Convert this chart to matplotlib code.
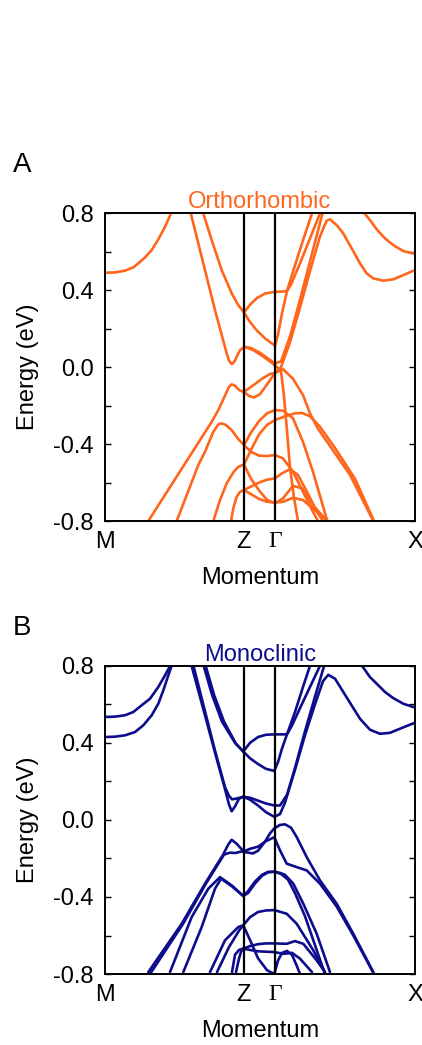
import numpy as np
import matplotlib
matplotlib.use('Agg')
from matplotlib import pyplot as plt

plt.rcParams['font.family'] = ['Liberation Sans', 'DejaVu Sans']

# high symmetry points along the path (path length units)
kpoints = [0.0, 1.39, 1.70, 3.10]
klabels = ['M', 'Z', '\u0393', 'X']

# ---- orthorhombic bands: (k, E) pairs ----
ortho_bands = [
    # M - Z
    ([0, 0.1, 0.2, 0.283, 0.333, 0.4, 0.467, 0.533, 0.6, 0.667, 0.7],
     [0.491, 0.493, 0.502, 0.519, 0.54, 0.571, 0.609, 0.665, 0.73, 0.808, 0.85]),
    ([0.84, 0.85, 1.1, 1.217, 1.24, 1.267, 1.293, 1.317, 1.35, 1.39],
     [0.84, 0.817, 0.297, 0.072, 0.034, 0.016, 0.028, 0.054, 0.089, 0.103]),
    ([0.967, 0.983, 1.067, 1.167, 1.267, 1.333, 1.39],
     [0.826, 0.80, 0.661, 0.505, 0.384, 0.323, 0.285]),
    ([0.433, 1.067, 1.133, 1.2, 1.24, 1.267, 1.3, 1.343, 1.39],
     [-0.80, -0.284, -0.223, -0.148, -0.102, -0.089, -0.096, -0.119, -0.13]),
    ([0.717, 0.933, 1.0, 1.083, 1.133, 1.167, 1.207, 1.267, 1.333, 1.39],
     [-0.80, -0.509, -0.44, -0.336, -0.297, -0.292, -0.30, -0.327, -0.374, -0.405]),
    ([1.083, 1.15, 1.217, 1.283, 1.333, 1.39],
     [-0.80, -0.691, -0.604, -0.547, -0.518, -0.506]),
    ([1.26, 1.283, 1.317, 1.35, 1.39],
     [-0.80, -0.734, -0.674, -0.648, -0.639]),
    # Z - Gamma - X
    ([1.39, 1.45, 1.52, 1.60, 1.70, 1.76, 1.82, 1.86, 1.95, 2.05, 2.15, 2.2],
     [0.285, 0.325, 0.36, 0.383, 0.392, 0.393, 0.396, 0.43, 0.54, 0.67, 0.80, 0.87]),
    ([1.39, 1.45, 1.52, 1.60, 1.70, 1.73, 1.77, 1.82, 1.90, 1.98, 2.07, 2.10],
     [0.285, 0.235, 0.19, 0.15, 0.112, 0.17, 0.28, 0.396, 0.53, 0.66, 0.80, 0.85]),
    ([1.39, 1.46, 1.55, 1.63, 1.70, 1.76, 1.85, 1.95, 2.05, 2.15, 2.19],
     [0.106, 0.10, 0.075, 0.045, 0.02, 0.03, 0.16, 0.35, 0.55, 0.75, 0.83]),
    ([1.39, 1.48, 1.57, 1.65, 1.72, 1.76, 1.79, 1.82, 1.85, 1.89, 1.93],
     [0.106, 0.09, 0.06, 0.03, 0.0, -0.02, -0.15, -0.33, -0.52, -0.68, -0.80]),
    ([1.39, 1.48, 1.57, 1.65, 1.70, 1.76, 1.85, 1.95, 2.05, 2.15, 2.183, 2.217, 2.25, 2.317, 2.383,
      2.467, 2.55, 2.617, 2.683, 2.783, 2.883, 2.983, 3.117],
     [-0.128, -0.095, -0.06, -0.035, -0.03, 0.0, 0.13, 0.31, 0.5, 0.68, 0.722, 0.762, 0.769, 0.739, 0.696,
      0.618, 0.54, 0.488, 0.462, 0.45, 0.457, 0.479, 0.509]),
    ([1.39, 1.44, 1.49, 1.55, 1.62, 1.70, 1.78, 1.88, 1.98, 2.05, 2.13, 2.25, 2.45, 2.683],
     [-0.128, -0.15, -0.157, -0.14, -0.09, -0.03, -0.01, -0.06, -0.145, -0.24, -0.32, -0.41, -0.56, -0.80]),
    ([2.55, 2.583, 2.65, 2.717, 2.8, 2.883, 2.983, 3.117],
     [0.85, 0.808, 0.765, 0.717, 0.67, 0.635, 0.604, 0.587]),
    # lower manifold
    ([1.39, 1.46, 1.54, 1.62, 1.70, 1.80, 1.90, 1.97, 2.05, 2.15, 2.3, 2.5, 2.69],
     [-0.506, -0.43, -0.35, -0.30, -0.275, -0.255, -0.24, -0.238, -0.255, -0.31, -0.42, -0.58, -0.80]),
    ([1.39, 1.46, 1.54, 1.62, 1.70, 1.78, 1.88, 1.98, 2.08, 2.22],
     [-0.405, -0.34, -0.28, -0.24, -0.223, -0.226, -0.266, -0.388, -0.544, -0.795]),
    ([1.39, 1.46, 1.54, 1.62, 1.70, 1.78, 1.88, 1.98, 2.08, 2.13],
     [-0.405, -0.44, -0.46, -0.462, -0.457, -0.474, -0.544, -0.648, -0.752, -0.80]),
    ([1.39, 1.46, 1.54, 1.62, 1.70, 1.77, 1.85, 1.93, 2.02, 2.12, 2.18],
     [-0.639, -0.62, -0.60, -0.585, -0.578, -0.552, -0.53, -0.561, -0.648, -0.752, -0.80]),
    ([1.39, 1.46, 1.54, 1.62, 1.70, 1.78, 1.88, 1.97, 2.08, 2.22],
     [-0.506, -0.58, -0.64, -0.69, -0.708, -0.682, -0.617, -0.63, -0.717, -0.80]),
    ([1.39, 1.46, 1.54, 1.62, 1.70, 1.78, 1.88, 1.98, 2.12, 2.23],
     [-0.639, -0.66, -0.685, -0.70, -0.703, -0.70, -0.679, -0.691, -0.752, -0.80]),
]

# ---- monoclinic bands ----
mono_bands = [
    # M - Z
    ([0, 0.1, 0.2, 0.283, 0.367, 0.45, 0.533, 0.6, 0.65, 0.683],
     [0.534, 0.536, 0.543, 0.56, 0.595, 0.629, 0.69, 0.75, 0.798, 0.836]),
    ([0, 0.1, 0.2, 0.3, 0.383, 0.467, 0.533, 0.583, 0.633, 0.667, 0.69],
     [0.43, 0.432, 0.439, 0.456, 0.491, 0.543, 0.603, 0.672, 0.75, 0.80, 0.84]),
    ([0.84, 1.1, 1.2, 1.24, 1.267, 1.30, 1.34, 1.383], [0.85, 0.35, 0.16, 0.08, 0.045, 0.07, 0.11, 0.12]),
    ([0.86, 1.1, 1.2, 1.24, 1.27, 1.31, 1.383], [0.85, 0.36, 0.17, 0.125, 0.107, 0.11, 0.12]),
    ([0.97, 1.07, 1.17, 1.3, 1.383], [0.83, 0.65, 0.51, 0.40, 0.355]),
    ([0.99, 1.09, 1.19, 1.31, 1.383], [0.83, 0.65, 0.51, 0.395, 0.355]),
    ([0.433, 0.767, 1.0, 1.183, 1.23, 1.267, 1.317, 1.383], [-0.79, -0.539, -0.331, -0.179, -0.13, -0.103, -0.124, -0.162]),
    ([0.45, 0.78, 1.01, 1.19, 1.25, 1.30, 1.383], [-0.80, -0.54, -0.33, -0.18, -0.17, -0.172, -0.162]),
    ([0.65, 0.867, 1.033, 1.15, 1.267, 1.383], [-0.79, -0.504, -0.357, -0.297, -0.34, -0.395]),
    ([0.783, 0.967, 1.1, 1.16, 1.27, 1.383], [-0.79, -0.556, -0.357, -0.305, -0.345, -0.395]),
    ([1.05, 1.2, 1.333, 1.383], [-0.79, -0.625, -0.556, -0.547]),
    ([1.12, 1.24, 1.34, 1.383], [-0.79, -0.66, -0.575, -0.547]),
    ([1.27, 1.3, 1.34, 1.383], [-0.79, -0.70, -0.675, -0.668]),
    ([1.31, 1.34, 1.36, 1.383], [-0.79, -0.72, -0.685, -0.668]),
    # Z - Gamma - X
    ([1.383, 1.45, 1.53, 1.61, 1.693, 1.76, 1.82, 1.87, 1.95, 2.05, 2.15, 2.2],
     [0.355, 0.40, 0.43, 0.442, 0.444, 0.444, 0.444, 0.49, 0.58, 0.69, 0.80, 0.86]),
    ([1.383, 1.45, 1.53, 1.61, 1.693, 1.73, 1.77, 1.82, 1.90, 1.98, 2.05, 2.08],
     [0.355, 0.32, 0.29, 0.265, 0.254, 0.30, 0.37, 0.444, 0.56, 0.69, 0.80, 0.85]),
    ([1.383, 1.45, 1.53, 1.61, 1.693, 1.75, 1.82, 1.9, 2.0, 2.1, 2.18, 2.22],
     [0.12, 0.115, 0.10, 0.085, 0.075, 0.075, 0.13, 0.27, 0.46, 0.64, 0.78, 0.85]),
    ([1.383, 1.45, 1.53, 1.61, 1.693, 1.75, 1.80, 1.9, 2.0, 2.1, 2.18, 2.233, 2.3, 2.383, 2.467, 2.55,
      2.65, 2.75, 2.85, 2.967, 3.117],
     [0.12, 0.105, 0.075, 0.04, 0.016, 0.03, 0.09, 0.26, 0.44, 0.6, 0.72, 0.753, 0.733, 0.664, 0.594, 0.525,
      0.468, 0.447, 0.452, 0.477, 0.508]),
    ([2.55, 2.567, 2.65, 2.717, 2.8, 2.883, 2.983, 3.117],
     [0.83, 0.802, 0.741, 0.707, 0.664, 0.632, 0.603, 0.58]),
    ([1.383, 1.43, 1.48, 1.53, 1.60, 1.65, 1.693, 1.75, 1.80, 1.86, 1.917, 2.017, 2.15, 2.317, 2.483, 2.683],
     [-0.165, -0.17, -0.174, -0.16, -0.113, -0.07, -0.044, -0.026, -0.023, -0.04, -0.089, -0.193, -0.314, -0.435, -0.591, -0.79]),
    ([1.383, 1.45, 1.53, 1.61, 1.693, 1.75, 1.817, 1.917, 2.017, 2.15, 2.317, 2.483, 2.69],
     [-0.165, -0.15, -0.139, -0.11, -0.09, -0.158, -0.227, -0.245, -0.262, -0.331, -0.45, -0.60, -0.80]),
    ([1.383, 1.43, 1.50, 1.57, 1.63, 1.693, 1.75, 1.80, 1.883, 1.983, 2.117, 2.25],
     [-0.395, -0.37, -0.32, -0.285, -0.27, -0.269, -0.275, -0.285, -0.331, -0.435, -0.591, -0.79]),
    ([1.383, 1.43, 1.50, 1.57, 1.63, 1.693, 1.76, 1.83, 1.9, 2.0, 2.1, 2.2],
     [-0.395, -0.38, -0.33, -0.29, -0.272, -0.269, -0.28, -0.31, -0.38, -0.50, -0.65, -0.80]),
    ([1.383, 1.45, 1.53, 1.61, 1.693, 1.817, 1.917, 2.083, 2.2],
     [-0.547, -0.505, -0.478, -0.47, -0.468, -0.487, -0.539, -0.677, -0.79]),
    ([1.383, 1.45, 1.53, 1.62, 1.693, 1.73, 1.77, 1.82, 1.87, 1.92, 1.95],
     [-0.547, -0.623, -0.718, -0.78, -0.80, -0.73, -0.69, -0.68, -0.70, -0.76, -0.80]),
    ([1.383, 1.45, 1.53, 1.61, 1.693, 1.817, 1.9, 1.983, 2.117, 2.2],
     [-0.668, -0.655, -0.645, -0.641, -0.641, -0.643, -0.629, -0.643, -0.729, -0.79]),
    ([1.383, 1.45, 1.53, 1.61, 1.693, 1.783, 1.87, 1.95, 2.07],
     [-0.668, -0.675, -0.682, -0.684, -0.686, -0.695, -0.69, -0.72, -0.79]),
]

ortho_color = '#ff661c'
mono_color = '#0c0c8c'

fig = plt.figure(figsize=(4.22, 10.45), dpi=100)


def draw_panel(rect, bands, color, title, letter, letter_y):
    ax = fig.add_axes(rect)
    for k, e in bands:
        ax.plot(k, e, color=color, lw=1.9, solid_joinstyle='round', solid_capstyle='round')
    for kp in kpoints[1:3]:
        ax.axvline(kp, color='k', lw=1.6)
    ax.set_xlim(kpoints[0], kpoints[-1])
    ax.set_ylim(-0.8, 0.8)
    ax.set_xticks(kpoints)
    ax.set_xticklabels(klabels)
    # Gamma in a serif face
    ax.get_xticklabels()[2].set_fontfamily(['Liberation Serif', 'DejaVu Serif'])
    ax.set_yticks([-0.8, -0.4, 0.0, 0.4, 0.8])
    ax.set_yticks([-0.6, -0.2, 0.2, 0.6], minor=True)
    ax.set_yticklabels(['-0.8', '-0.4', '0.0', '0.4', '0.8'])
    ax.tick_params(axis='x', length=0, pad=7, labelsize=17)
    ax.tick_params(axis='y', which='both', direction='in', length=4, width=1,
                   left=True, right=True, labelsize=17, pad=8)
    for s in ax.spines.values():
        s.set_linewidth(1.4)
    ax.set_ylabel('Energy (eV)', fontsize=17, labelpad=10)
    ax.set_xlabel('Momentum', fontsize=17, labelpad=10)
    ax.set_title(title, color=color, fontsize=17, pad=2)
    fig.text(0.03, letter_y, letter, fontsize=20, ha='left', va='center')
    return ax


draw_panel([0.2488, 0.5014, 0.7346, 0.2944], ortho_bands, ortho_color, 'Orthorhombic', 'A', 0.842)
draw_panel([0.2488, 0.0679, 0.7346, 0.2950], mono_bands, mono_color, 'Monoclinic', 'B', 0.399)

fig.savefig('out.png', dpi=100)
